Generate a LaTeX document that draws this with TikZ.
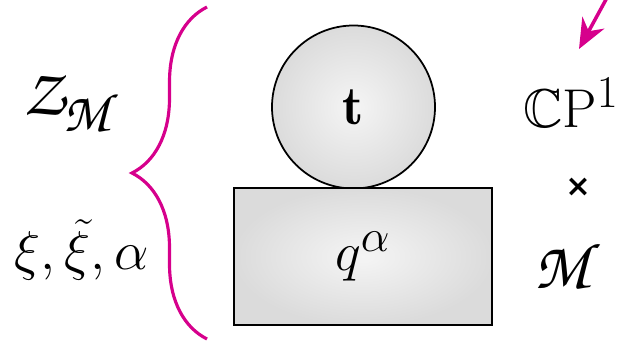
\documentclass[tikz,border=0pt]{standalone}
\usepackage{amsmath,amssymb}
\usepackage{fontspec}
\newfontfamily\symbfont{DejaVu Sans}
\DeclareMathAlphabet{\mathpzc}{OT1}{pzc}{m}{it}
\usetikzlibrary{arrows.meta,positioning,decorations.pathreplacing,shadings}

\definecolor{bracemag}{RGB}{214,0,140}

\begin{document}
\begin{tikzpicture}[
    part/.style={draw, line width=1pt, inner color=gray!8, outer color=gray!28},
    lbl/.style={font=\Huge, scale=1.25, transform shape},
    cal/.style={font=\Huge, scale=1.5, transform shape},
    brc/.style={decorate, decoration={brace, amplitude=1.5cm}, draw=bracemag, line width=1.8pt},
    arrow/.style={-{Stealth[length=0.6cm, width=0.5cm]}, draw=bracemag, line width=2pt}
]
    \useasboundingbox (0,0) rectangle (12.62,6.86);

    % the two pieces
    \node[part, circle, minimum size=3.26cm] (tball) at (7.07,4.72) {};
    \node[lbl] at (tball) {$\mathbf{t}$};
    \node[part, rectangle, minimum width=5.16cm, minimum height=2.74cm] (qbox) at (7.26,1.73) {};
    \node[lbl] at (qbox) {$q^{\alpha}$};

    % left labels
    \node[cal] (zlab) at (1.44,4.80) {$\mathpzc{Z}_{\mathpzc{M}}$};
    \node[lbl] (flab) at (1.64,1.86) {$\xi,\tilde{\xi},\alpha$};
    \coordinate (btop) at (4.14,6.72);
    \coordinate (bbot) at (4.14,0.08);
    \draw[brc] (bbot) -- (btop);

    % right labels
    \node[lbl] (cplab) at (11.42,4.80) {$\mathbb{C}\mathrm{P}^1$};
    \node[font=\symbfont\bfseries\LARGE] (times) at (11.56,3.12) {×};
    \node[cal] (mlab) at (11.36,1.56) {$\mathpzc{M}$};
    \coordinate (astart) at (12.18,6.98);
    \coordinate (aend) at (11.58,5.88);
    \draw[arrow] (astart) -- (aend);
\end{tikzpicture}
\end{document}
